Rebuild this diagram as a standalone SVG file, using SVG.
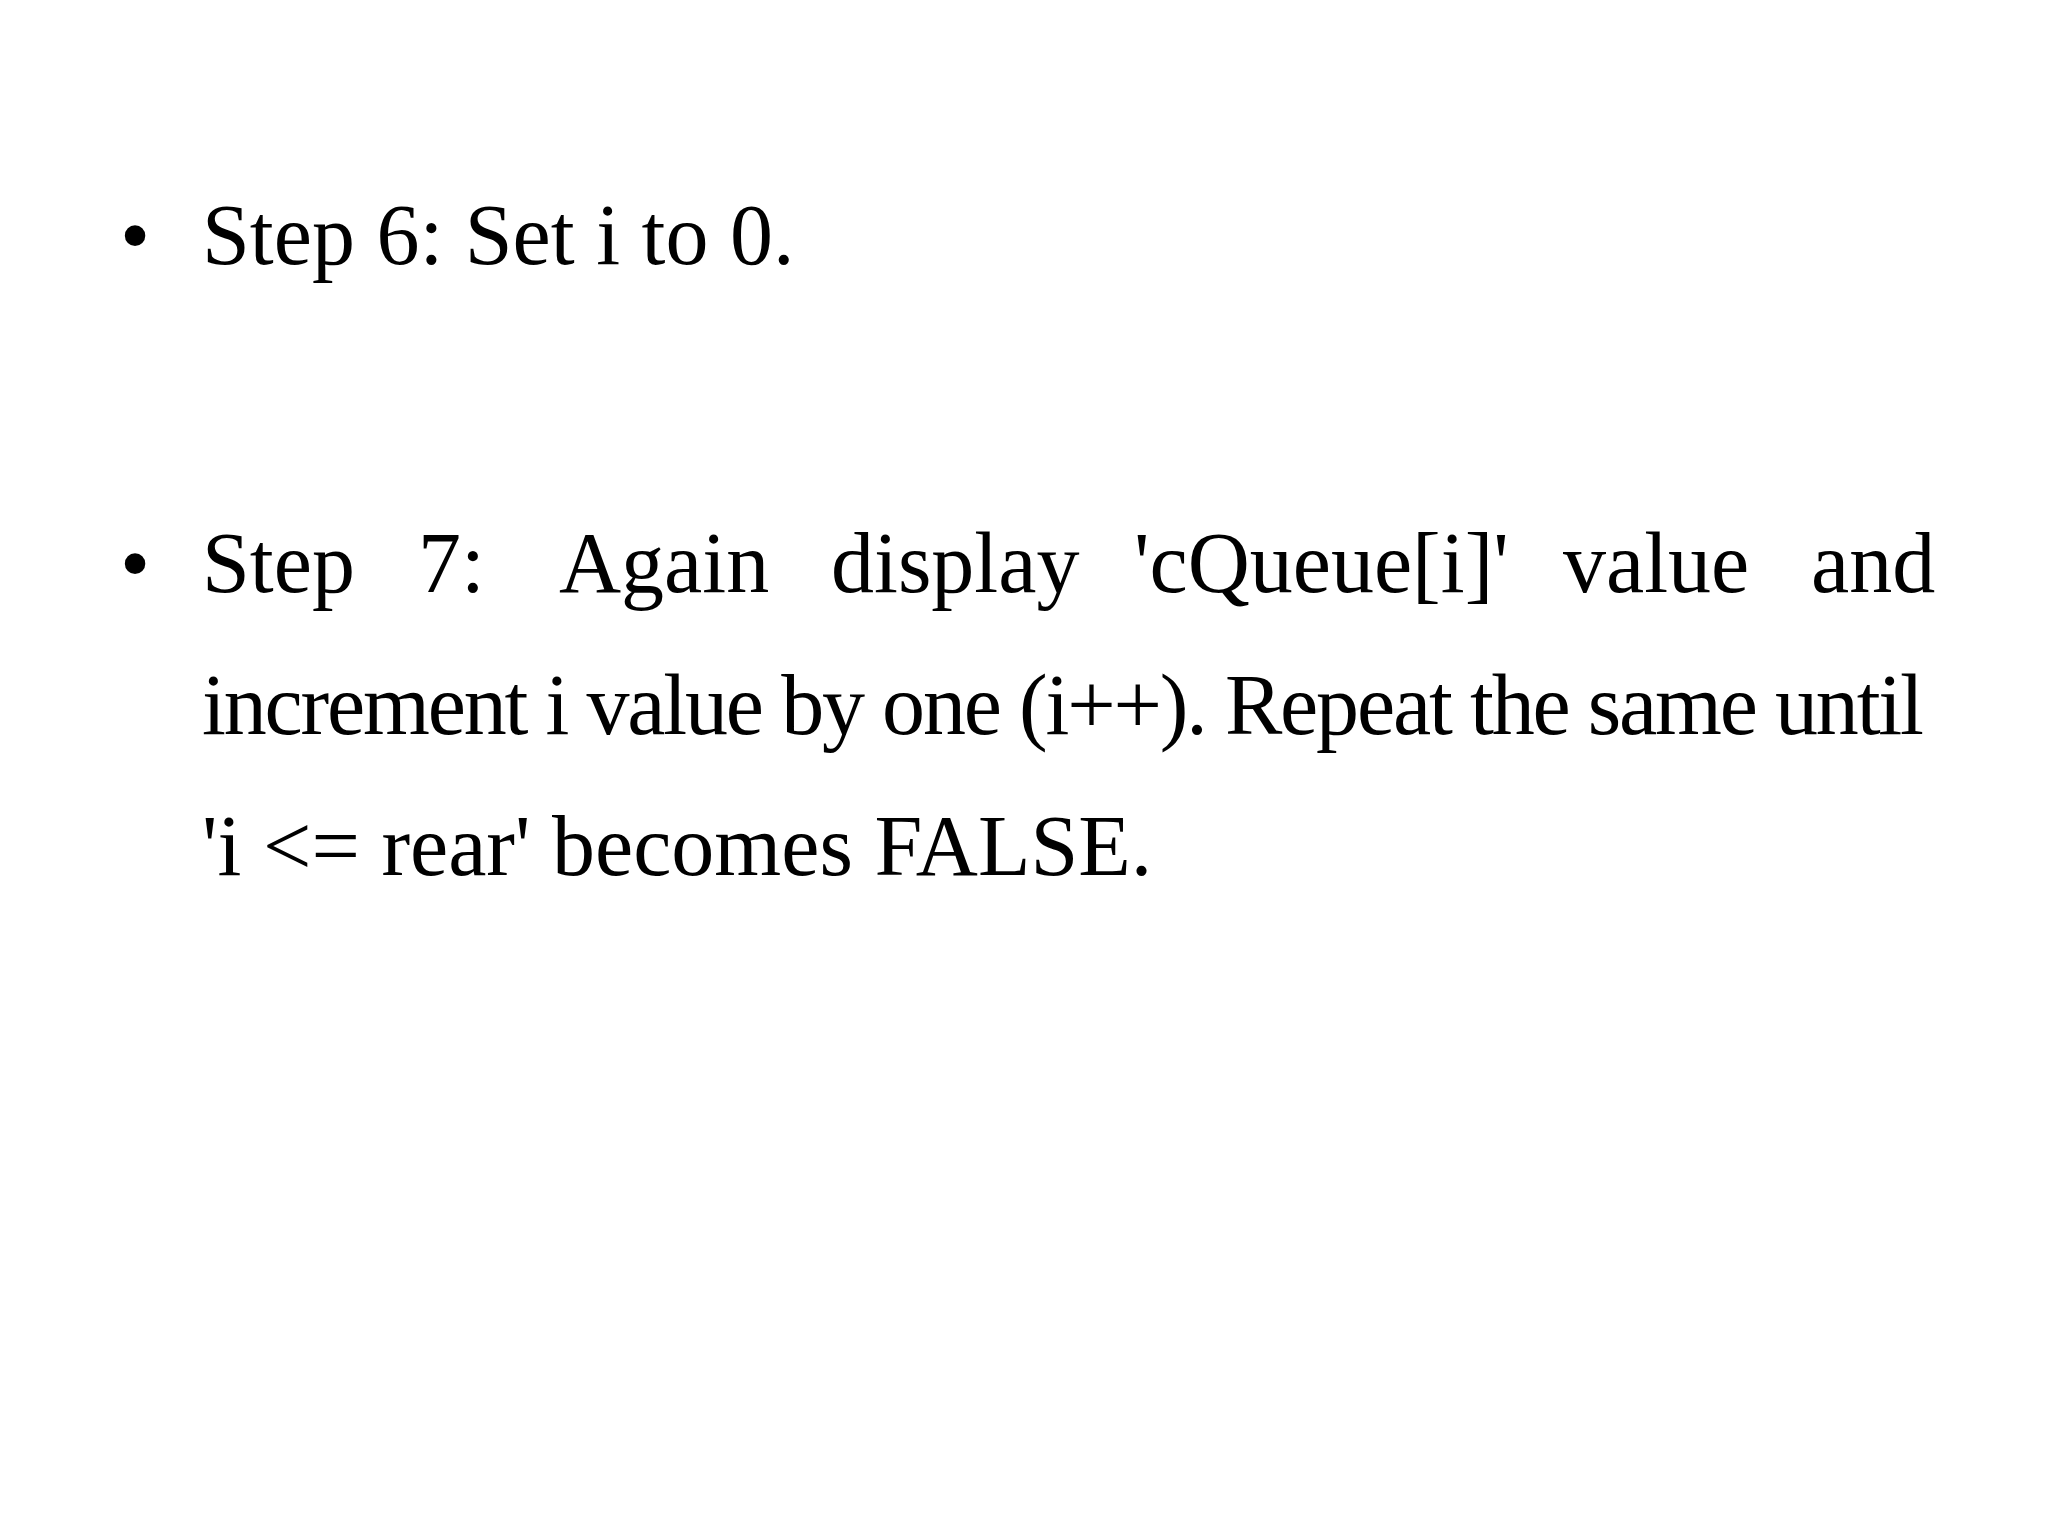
<svg xmlns="http://www.w3.org/2000/svg" width="2048" height="1536" viewBox="0 0 2048 1536">
<style>
text{font-family:"Liberation Serif","Times New Roman",serif;font-size:86px;fill:#000}
</style>
<rect width="2048" height="1536" fill="#fff"/>
<g id="step6">
<text x="120" y="264">•</text>
<text x="202" y="264">Step 6: Set i to 0.</text>
</g>
<g id="step7">
<text x="120" y="592">•</text>
<text y="592"><tspan x="202">Step</tspan><tspan x="418">7:</tspan><tspan x="559">Again</tspan><tspan x="831">display</tspan><tspan x="1134">'cQueue[i]'</tspan><tspan x="1563">value</tspan><tspan x="1811">and</tspan></text>
<text x="202" y="734" textLength="1722" lengthAdjust="spacing">increment i value by one (i++). Repeat the same until</text>
<text x="202" y="875">'i &lt;= rear' becomes FALSE.</text>
</g>
</svg>
